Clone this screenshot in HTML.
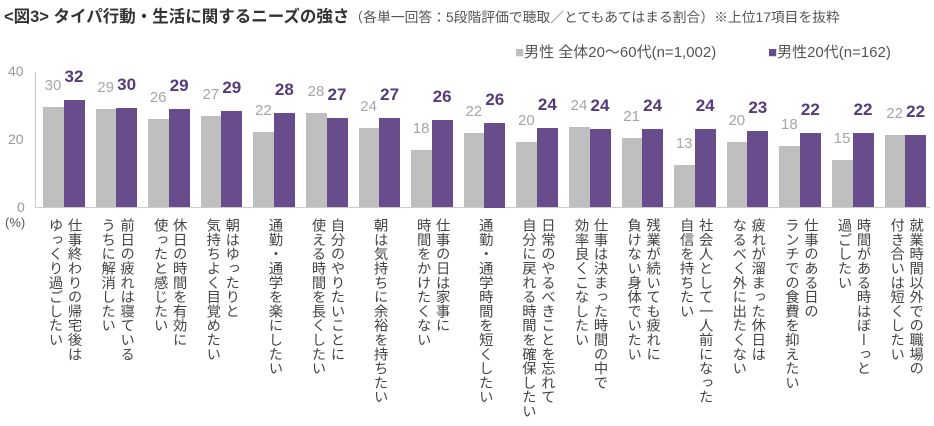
<!DOCTYPE html>
<html><head><meta charset="utf-8"><style>
body{margin:0;width:934px;height:426px;background:#fff;position:relative;overflow:hidden;font-family:"Liberation Sans","Noto Sans CJK JP",sans-serif;}
.a{position:absolute;white-space:nowrap}
.lab{position:absolute;top:218px;writing-mode:vertical-rl;font-size:14.3px;line-height:19px;color:#444;transform:translateX(-50%);white-space:nowrap}
.g{position:absolute;background:#bfbfbf}
.p{position:absolute;background:#694c8c}
.gv{position:absolute;font-size:15px;color:#a6a6a6;text-align:center;width:24px}
.pv{position:absolute;font-size:17px;font-weight:bold;color:#553a7c;text-align:center;width:26px}
</style></head><body>
<div class="a" style="left:4px;top:3px;font-size:16.5px;font-weight:bold;color:#333">&lt;図3&gt; タイパ行動・生活に関するニーズの強さ<span style="font-weight:normal;font-size:13.8px;color:#555">（各単一回答：5段階評価で聴取／とてもあてはまる割合）※上位17項目を抜粋</span></div>
<div class="a" style="left:515px;top:41px;font-size:15px;color:#555"><span style="color:#bfbfbf">■</span>男性 全体20～60代(n=1,002)</div>
<div class="a" style="left:768px;top:41px;font-size:15px;color:#555"><span style="color:#694c8c">■</span>男性20代(n=162)</div>
<div class="a" style="left:8px;top:63px;font-size:14px;color:#999">40</div>
<div class="a" style="left:8px;top:131px;font-size:14px;color:#999">20</div>
<div class="a" style="left:17px;top:199px;font-size:14px;color:#999">0</div>
<div class="a" style="left:5px;top:215px;font-size:13px;color:#555">(%)</div>
<div class="a" style="left:35px;top:72px;width:1px;height:136px;background:#ccc"></div>
<div class="a" style="left:35px;top:207px;width:895px;height:1px;background:#ccc"></div>
<div id="c"></div>
<script>
var g=[29.7,29,25.9,26.8,22.2,27.9,23.5,17,21.8,19.4,23.8,20.3,12.6,19.4,18,14.1,21.2];
var p=[31.5,29.4,29.1,28.5,27.9,26.2,26.2,25.6,25,23.5,23.2,23.2,23.2,22.6,21.8,21.8,21.2];
var gl=[30,29,26,27,22,28,24,18,22,20,24,21,13,20,18,15,22];
var pl=[32,30,29,29,28,27,27,26,26,24,24,24,24,23,22,22,22];
var L=["仕事終わりの帰宅後は<br>ゆっくり過ごしたい","前日の疲れは寝ている<br>うちに解消したい","休日の時間を有効に<br>使ったと感じたい","朝はゆったりと<br>気持ちよく目覚めたい","通勤・通学を楽にしたい","自分のやりたいことに<br>使える時間を長くしたい","朝は気持ちに余裕を持ちたい","仕事の日は家事に<br>時間をかけたくない","通勤・通学時間を短くしたい","日常のやるべきことを忘れて<br>自分に戻れる時間を確保したい","仕事は決まった時間の中で<br>効率良くこなしたい","残業が続いても疲れに<br>負けない身体でいたい","社会人として一人前になった<br>自信を持ちたい","疲れが溜まった休日は<br>なるべく外に出たくない","仕事のある日の<br>ランチでの食費を抑えたい","時間がある時はぼーっと<br>過ごしたい","就業時間以外での職場の<br>付き合いは短くしたい"];
var h="",B=207.5,S=3.4;
for(var i=0;i<17;i++){var x=43+52.6*i;var gh=g[i]*S,ph=p[i]*S;
h+='<div class="g" style="left:'+x+'px;top:'+(B-gh)+'px;width:20.5px;height:'+gh+'px"></div>';
h+='<div class="p" style="left:'+(x+20.5)+'px;top:'+(B-ph)+'px;width:21px;height:'+ph+'px"></div>';
h+='<div class="gv" style="left:'+(x-2)+'px;top:'+(B-gh-30)+'px">'+gl[i]+'</div>';
h+='<div class="pv" style="left:'+(x+18)+'px;top:'+(B-ph-33)+'px">'+pl[i]+'</div>';
h+='<div class="lab" style="left:'+(x+20.5)+'px">'+L[i]+'</div>';}
document.getElementById("c").innerHTML=h;
</script>
</body></html>
